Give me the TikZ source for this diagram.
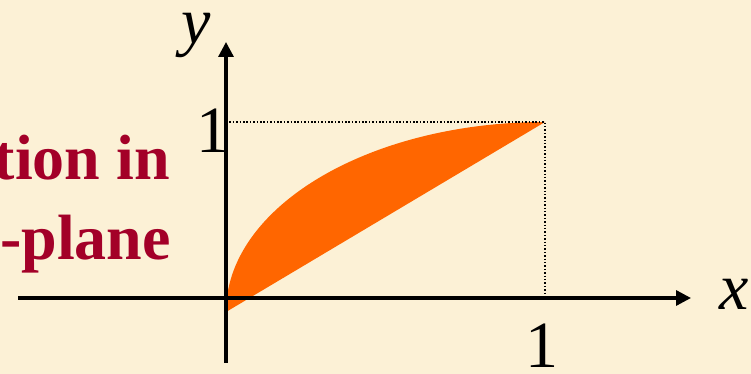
\documentclass[tikz,border=0pt]{standalone}
\usepackage{fontspec}
\setmainfont{Liberation Serif}
\usetikzlibrary{arrows.meta}
\definecolor{parchment}{HTML}{FCF1D6}
\definecolor{regionorange}{HTML}{FF6600}
\definecolor{titlered}{HTML}{A30028}
\tikzset{
  axis/.style={line width=3.2pt,-{Triangle[length=15pt,width=15pt]}},
  guide/.style={line width=1.5pt,dash pattern=on 1.5pt off 1.9pt},
  axislabel/.style={font=\fontsize{66}{66}\selectfont\itshape,inner sep=0pt},
  ticklabel/.style={font=\fontsize{66}{66}\selectfont,inner sep=0pt},
  titleline/.style={font=\fontsize{64}{64}\selectfont\bfseries,text=titlered,inner sep=0pt,anchor=base east}
}
\begin{document}
\begin{tikzpicture}[x=1pt,y=1pt]
\path[use as bounding box,fill=parchment] (0,0) rectangle (751,374);
\clip (0,0) rectangle (751,374);
\coordinate (origin) at (226,76);
\coordinate (xstart) at (18,76);
\coordinate (xend) at (691,76);
\coordinate (ystart) at (226,11);
\coordinate (yend) at (226,332);
\coordinate (corner) at (545,252);
\coordinate (ytick) at (226,252);
\coordinate (xtick) at (545,76);
\coordinate (regionstart) at (226,62);
\fill[regionorange] (regionstart) arc[start angle=180,end angle=90,x radius=319,y radius=190] -- cycle;
\draw[guide] (ytick) -- (corner) -- (xtick);
\draw[axis] (xstart) -- (xend);
\draw[axis] (ystart) -- (yend);
\node[axislabel] (ylab) at (196,339) {y};
\node[axislabel] (xlab) at (734,80) {x};
\node[ticklabel] (oney) at (212.5,243.5) {1};
\node[ticklabel] (onex) at (541.5,28) {1};
\node[titleline] (titleA) at (170,194) {tion in};
\node[titleline] (titleB) at (171,114) {-plane};
\end{tikzpicture}
\end{document}
